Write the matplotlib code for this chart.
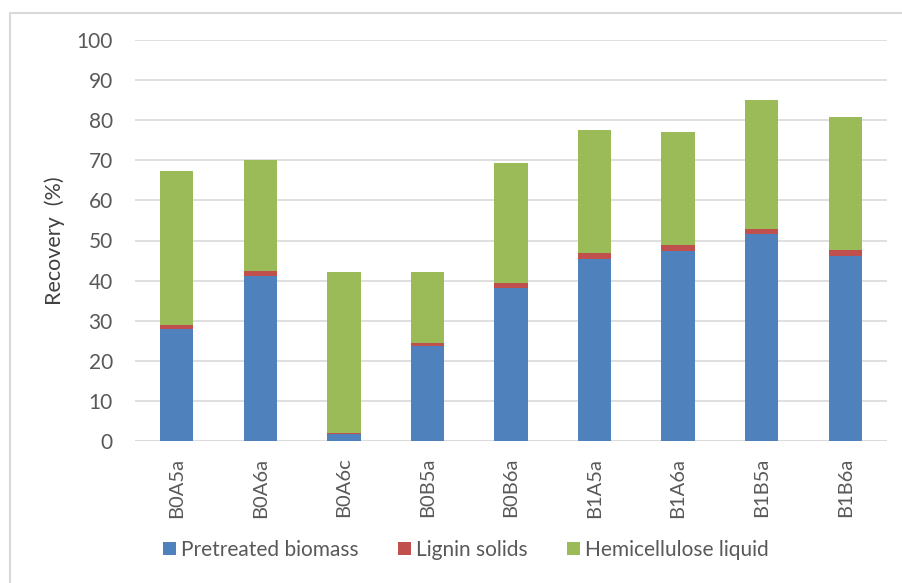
import matplotlib
matplotlib.use("Agg")
import matplotlib.pyplot as plt
from matplotlib.patches import Rectangle
import numpy as np

categories = ["B0A5a", "B0A6a", "B0A6c", "B0B5a", "B0B6a", "B1A5a", "B1A6a", "B1B5a", "B1B6a"]
pretreated = [28.0, 41.1, 1.7, 23.7, 38.1, 45.3, 47.4, 51.7, 46.2]
lignin = [0.9, 1.2, 0.4, 0.8, 1.2, 1.5, 1.6, 1.2, 1.5]
hemicellulose = [38.4, 27.7, 40.1, 17.7, 30.0, 30.7, 28.0, 32.1, 33.1]
yticks = [0, 10, 20, 30, 40, 50, 60, 70, 80, 90, 100]

plt.rcParams['font.family'] = ['Lato', 'DejaVu Sans']
W, H = 902, 583
fig = plt.figure(figsize=(W / 100, H / 100), dpi=100)
ax = fig.add_axes([135 / W, 1 - 441 / H, (887 - 135) / W, (441 - 40) / H])

x = np.arange(len(categories))
p = np.array(pretreated)
l = np.array(lignin)
h = np.array(hemicellulose)
w = 0.4
ax.bar(x, p, w, color="#4F81BD", label="Pretreated biomass", zorder=3)
ax.bar(x, l, w, bottom=p, color="#C0504D", label="Lignin solids", zorder=3)
ax.bar(x, h, w, bottom=p + l, color="#9BBB59", label="Hemicellulose liquid", zorder=3)

ax.set_xlim(-0.5, len(categories) - 0.5)
ax.set_ylim(0, 100)
ax.set_yticks(yticks)
ax.set_yticklabels([str(v) for v in yticks], fontsize=15, color="#595959")
ax.set_xticks(x)
ax.set_xticklabels(categories, rotation=90, fontsize=14.5, color="#595959")
ax.tick_params(axis="both", length=0)
ax.tick_params(axis="y", pad=16)
ax.tick_params(axis="x", pad=12)
ax.yaxis.grid(True, color="#D9D9D9", linewidth=1.2, zorder=0)
for s in ax.spines.values():
    s.set_visible(False)
ax.axhline(0, color="#D9D9D9", linewidth=1.2, zorder=2)
ax.set_ylabel("Recovery  (%)", fontsize=15.5, color="#404040", labelpad=8)

leg = fig.legend(loc="center", bbox_to_anchor=(466 / W, 1 - 550 / H), ncol=3, frameon=False,
                 fontsize=15, handlelength=0.6, handleheight=0.6, handletextpad=0.25,
                 columnspacing=1.9, labelcolor="#595959")

fig.patches.append(Rectangle((10 / W, -0.1), 1.2, 1 - 13 / H + 0.1, transform=fig.transFigure,
                             fill=False, edgecolor="#D9D9D9", linewidth=1.5))

fig.savefig("out.png", dpi=100)
